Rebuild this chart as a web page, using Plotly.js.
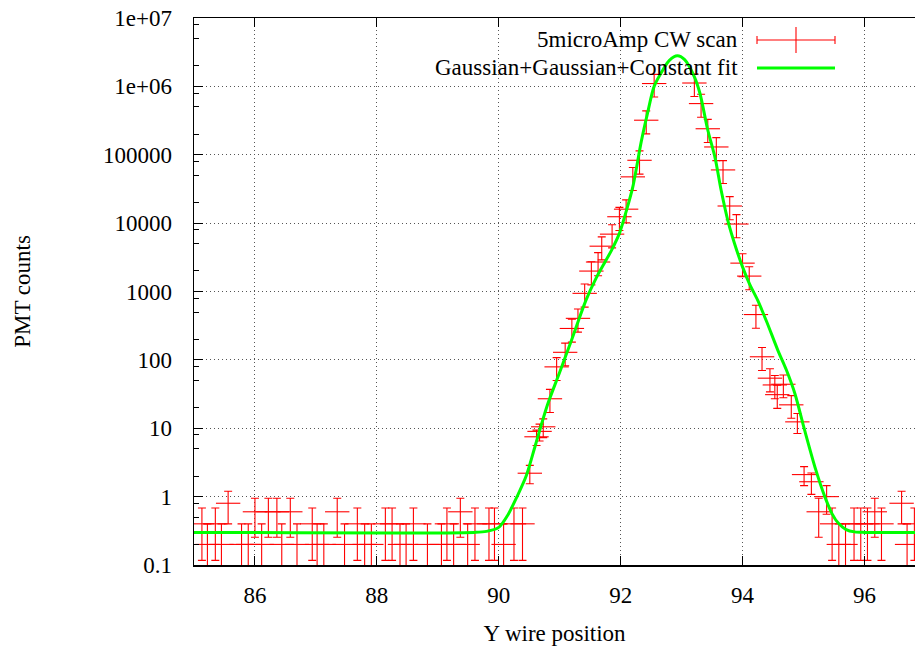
<!DOCTYPE html>
<html>
<head>
<meta charset="utf-8">
<script src="https://cdn.plot.ly/plotly-3.0.1.min.js"></script>
<style>html,body{margin:0;padding:0;background:#fff;overflow:hidden}</style>
</head>
<body>
<div id="chart" style="width:915px;height:650px"></div>
<script>
// ---- data ----
var SCAN_X = [85.13,85.22,85.35,85.45,85.56,85.78,85.89,86.00,86.11,86.22,86.36,86.44,86.58,86.69,86.94,87.02,87.13,87.35,87.47,87.68,87.80,87.91,88.14,88.25,88.38,88.48,88.60,88.83,89.06,89.15,89.26,89.37,89.49,89.61,89.84,89.93,90.08,90.25,90.39,
  90.51,90.62,90.67,90.73,90.84,90.95,91.09,91.20,91.30,91.41,91.52,91.63,91.69,91.86,91.98,92.09,92.20,92.31,92.42,92.55,
  93.21,93.32,93.43,93.57,93.68,93.79,93.90,94.00,94.11,94.22,94.32,94.45,94.53,94.57,94.67,94.80,94.90,95.01,95.13,95.25,95.38,95.47,95.58,95.69,95.83,95.94,96.05,96.17,96.28,96.61,96.70,96.82];
var SCAN_Y = [0.4,0.2,0.4,0.2,0.8,0.2,0.2,0.6,0.2,0.6,0.6,0.2,0.6,0.2,0.4,0.2,0.2,0.6,0.2,0.4,0.2,0.2,0.4,0.4,0.2,0.2,0.4,0.2,0.2,0.4,0.2,0.6,0.2,0.4,0.4,0.4,0.2,0.4,0.4,
  2.2,7.5,9,10.5,27,79,129,288,405,940,1990,2700,4600,6900,12400,16000,47500,83000,320000,1100000,
  1120000,560000,240000,130000,60000,17800,9700,2600,1680,460,111,54,43,31,44,22,12.4,2.1,1.65,0.6,1.0,0.4,0.2,0.2,0.4,0.4,0.4,0.6,0.4,0.8,0.2,0.4];
var SCAN_YERR = [0.283,0.2,0.283,0.2,0.4,0.2,0.2,0.346,0.2,0.346,0.346,0.2,0.346,0.2,0.283,0.2,0.2,0.346,0.2,0.283,0.2,0.2,0.283,0.283,0.2,0.2,0.283,0.2,0.2,0.283,0.2,0.346,0.2,0.283,0.283,0.283,0.2,0.283,0.283,
  0.66,1.9,2.5,3.2,10,29,47,106,150,350,740,1000,1700,2550,4600,5900,17500,31000,118000,400000,
  410000,207000,89000,48000,22000,6600,3600,960,620,170,41,20,16,11.5,16,8,4,0.65,0.57,0.346,0.447,0.283,0.2,0.2,0.283,0.283,0.283,0.346,0.283,0.4,0.2,0.283];
var SCAN_XERR = 0.2;

var FIT_X = [85.0,89.6,89.8,90.0,90.15,90.3,90.45,90.6,90.8,91.0,91.2,91.43,91.6,91.73,91.85,91.98,92.1,92.2,92.34,92.44,92.55,92.7,92.8,92.93,93.05,93.21,93.3,93.43,93.55,93.65,93.77,93.87,94.0,94.12,94.25,94.4,94.58,94.72,94.86,95.02,95.2,95.35,95.47,95.57,95.7,95.84,96.0,96.83];
var FIT_Y = [0.3,0.3,0.31,0.355,0.54,1.0,2.0,5.6,22,66,200,740,1580,2570,4000,7080,15800,33900,158000,400000,1000000,1780000,2400000,2800000,2460000,1380000,800000,230000,90000,30000,10000,5000,2290,1260,740,355,138,71,32,9.3,2.5,1.0,0.56,0.41,0.33,0.305,0.3,0.3];

var SCAN_NAME = "5microAmp CW scan";
var FIT_NAME = "Gaussian+Gaussian+Constant fit";
var X_TICKS = [86,88,90,92,94,96];
var Y_TICKS = [0.1,1,10,100,1000,10000,100000,1000000,10000000];
var Y_TICKTEXT = ["0.1","1","10","100","1000","10000","100000","1e+06","1e+07"];
var Y_MINOR = [];
[0.1,1,10,100,1000,10000,100000,1000000].forEach(function(d){ [2,5,8].forEach(function(m){ Y_MINOR.push(d*m); }); });

var FONT = "Liberation Serif, DejaVu Serif, serif";
var FS = 23;
var RED = "#ff0000", GREEN = "#00ff00";

var traces = [
  {
    x: SCAN_X, y: SCAN_Y, type: "scatter", mode: "markers", name: SCAN_NAME,
    marker: {opacity: 0, size: 2, color: RED},
    error_y: {type: "data", array: SCAN_YERR, color: RED, thickness: 1.1, width: 4},
    error_x: {type: "constant", value: SCAN_XERR, color: RED, thickness: 1.1, width: 0},
    showlegend: false
  },
  {
    x: FIT_X, y: FIT_Y, type: "scatter", mode: "lines", name: FIT_NAME,
    line: {color: GREEN, width: 3, shape: "spline", smoothing: 0.8},
    showlegend: false
  }
];

function px(x){ return (x - 194) / 721; }
function py(y){ return (565 - y) / 547; }

var layout = {
  width: 915, height: 650,
  margin: {l: 194, r: 0, t: 18, b: 85},
  paper_bgcolor: "#fff", plot_bgcolor: "#fff",
  font: {family: FONT, size: FS, color: "#000"},
  showlegend: false,
  xaxis: {
    range: [85, 96.83], tickvals: X_TICKS, ticks: "inside", ticklen: 9, tickwidth: 1, tickcolor: "#000",
    showline: true, linecolor: "#000", linewidth: 1.5, mirror: "ticks",
    showgrid: true, gridcolor: "#555", gridwidth: 1, griddash: "1px,3px", zeroline: false,
    tickfont: {family: FONT, size: FS, color: "#000"}, ticklabelstandoff: 9,
    title: {text: "Y wire position", font: {family: FONT, size: FS, color: "#000"}, standoff: 18}
  },
  yaxis: {
    type: "log", range: [-1, 7], tickvals: Y_TICKS, ticktext: Y_TICKTEXT,
    ticks: "inside", ticklen: 9, tickwidth: 1, tickcolor: "#000",
    minor: {tickvals: Y_MINOR, ticks: "inside", ticklen: 5, tickcolor: "#000", showgrid: false},
    showline: true, linecolor: "#000", linewidth: 1.5, mirror: false,
    showgrid: true, gridcolor: "#555", gridwidth: 1, griddash: "1px,3px", zeroline: false,
    tickfont: {family: FONT, size: FS, color: "#000"}, ticklabelstandoff: 16,
    title: {text: "PMT counts", font: {family: FONT, size: FS, color: "#000"}, standoff: 66}
  },
  annotations: [
    {xref: "paper", yref: "paper", x: px(740), y: py(40), xanchor: "right", yanchor: "middle", text: SCAN_NAME, showarrow: false, font: {family: FONT, size: FS, color: "#000"}},
    {xref: "paper", yref: "paper", x: px(740), y: py(68), xanchor: "right", yanchor: "middle", text: FIT_NAME, showarrow: false, font: {family: FONT, size: FS, color: "#000"}}
  ],
  shapes: [
    {type: "line", xref: "paper", yref: "paper", x0: px(757), x1: px(835), y0: py(40), y1: py(40), line: {color: RED, width: 1.1}},
    {type: "line", xref: "paper", yref: "paper", x0: px(757), x1: px(757), y0: py(36), y1: py(44), line: {color: RED, width: 1.1}},
    {type: "line", xref: "paper", yref: "paper", x0: px(835), x1: px(835), y0: py(36), y1: py(44), line: {color: RED, width: 1.1}},
    {type: "line", xref: "paper", yref: "paper", x0: px(796), x1: px(796), y0: py(27), y1: py(53), line: {color: RED, width: 1.1}},
    {type: "line", xref: "paper", yref: "paper", x0: px(757), x1: px(835), y0: py(68), y1: py(68), line: {color: GREEN, width: 3}}
  ]
};

Plotly.newPlot("chart", traces, layout, {displayModeBar: false, staticPlot: true});
</script>
</body>
</html>
